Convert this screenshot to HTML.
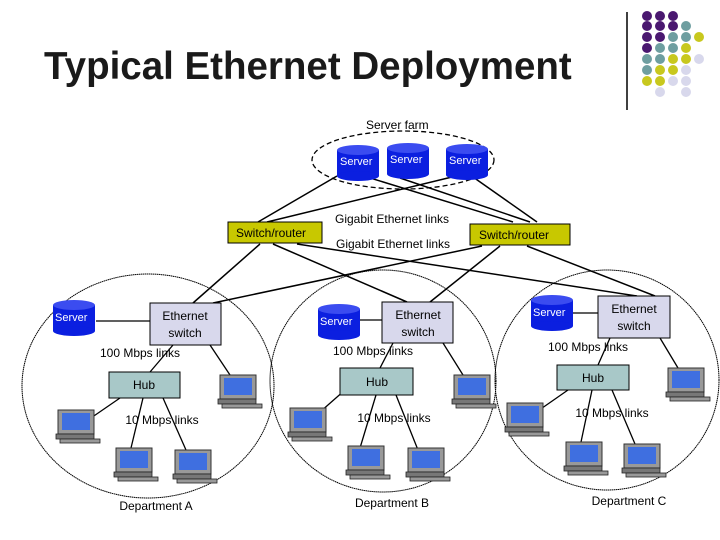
<!DOCTYPE html>
<html><head><meta charset="utf-8"><style>
html,body{margin:0;padding:0;background:#fff}
svg{display:block}
text{font-family:"Liberation Sans",sans-serif}
</style></head><body>
<svg width="720" height="540" viewBox="0 0 720 540" xmlns="http://www.w3.org/2000/svg">
<defs>
<g id="srv">
<rect x="0" y="5" width="42" height="26" fill="#0b1fe0"/>
<ellipse cx="21" cy="31" rx="21" ry="5" fill="#0b1fe0"/>
<ellipse cx="21" cy="5" rx="21" ry="5" fill="#3b4cf0"/>
</g>
<g id="pc">
<rect x="2" y="0" width="36" height="24" fill="#999" stroke="#333" stroke-width="1"/>
<rect x="6" y="3" width="28" height="17" fill="#3f6fe0"/>
<rect x="0" y="24" width="38" height="5" fill="#777" stroke="#222" stroke-width="0.8"/>
<rect x="4" y="29" width="40" height="4" fill="#999" stroke="#222" stroke-width="0.8"/>
</g>
</defs>
<text x="44" y="79" font-size="38.5" font-weight="bold" fill="#1a1a1a">Typical Ethernet Deployment</text>
<line x1="627" y1="12" x2="627" y2="110" stroke="#000" stroke-width="1.5"/>
<g>
<circle cx="647" cy="16" r="5" fill="#4a1870"/><circle cx="660" cy="16" r="5" fill="#4a1870"/><circle cx="673" cy="16" r="5" fill="#4a1870"/>
<circle cx="647" cy="26" r="5" fill="#4a1870"/><circle cx="660" cy="26" r="5" fill="#4a1870"/><circle cx="673" cy="26" r="5" fill="#4a1870"/><circle cx="686" cy="26" r="5" fill="#6e9ea0"/>
<circle cx="647" cy="37" r="5" fill="#4a1870"/><circle cx="660" cy="37" r="5" fill="#4a1870"/><circle cx="673" cy="37" r="5" fill="#6e9ea0"/><circle cx="686" cy="37" r="5" fill="#6e9ea0"/><circle cx="699" cy="37" r="5" fill="#c8c81e"/>
<circle cx="647" cy="48" r="5" fill="#4a1870"/><circle cx="660" cy="48" r="5" fill="#6e9ea0"/><circle cx="673" cy="48" r="5" fill="#6e9ea0"/><circle cx="686" cy="48" r="5" fill="#c8c81e"/>
<circle cx="647" cy="59" r="5" fill="#6e9ea0"/><circle cx="660" cy="59" r="5" fill="#6e9ea0"/><circle cx="673" cy="59" r="5" fill="#c8c81e"/><circle cx="686" cy="59" r="5" fill="#c8c81e"/><circle cx="699" cy="59" r="5" fill="#d8d8ec"/>
<circle cx="647" cy="70" r="5" fill="#6e9ea0"/><circle cx="660" cy="70" r="5" fill="#c8c81e"/><circle cx="673" cy="70" r="5" fill="#c8c81e"/><circle cx="686" cy="70" r="5" fill="#d8d8ec"/>
<circle cx="647" cy="81" r="5" fill="#c8c81e"/><circle cx="660" cy="81" r="5" fill="#c8c81e"/><circle cx="673" cy="81" r="5" fill="#d8d8ec"/><circle cx="686" cy="81" r="5" fill="#d8d8ec"/>
<circle cx="660" cy="92" r="5" fill="#d8d8ec"/><circle cx="686" cy="92" r="5" fill="#d8d8ec"/>
</g>
<g stroke="#000" stroke-width="1.5" fill="none">
<line x1="337" y1="176" x2="258" y2="222"/>
<line x1="452" y1="177" x2="267" y2="222"/>
<line x1="367" y1="177" x2="513" y2="222"/>
<line x1="400" y1="178" x2="530" y2="222"/>
<line x1="473" y1="177" x2="537" y2="222"/>
<line x1="260" y1="244" x2="193" y2="303"/>
<line x1="273" y1="244" x2="407" y2="302"/>
<line x1="297" y1="244" x2="637" y2="296"/>
<line x1="482" y1="246" x2="213" y2="303"/>
<line x1="500" y1="246" x2="430" y2="302"/>
<line x1="527" y1="246" x2="655" y2="296"/>
</g>
<g stroke="#000" stroke-width="1" fill="none" stroke-dasharray="1.5 0.5">
<ellipse cx="148" cy="386" rx="126" ry="112"/>
<ellipse cx="383" cy="381" rx="113" ry="111"/>
<ellipse cx="607" cy="380" rx="112" ry="110"/>
</g>
<ellipse cx="403" cy="160" rx="91" ry="29" fill="none" stroke="#000" stroke-width="1.3" stroke-dasharray="5 3"/>
<text x="366" y="129" font-size="12">Server farm</text>
<use href="#srv" x="337" y="145"/><use href="#srv" x="387" y="143"/><use href="#srv" x="446" y="144"/>
<g font-size="11" fill="#fff"><text x="340" y="165">Server</text><text x="390" y="163">Server</text><text x="449" y="164">Server</text></g>
<rect x="228" y="222" width="94" height="21" fill="#c8c800" stroke="#000"/>
<text x="236" y="237" font-size="12">Switch/router</text>
<rect x="470" y="224" width="100" height="21" fill="#c8c800" stroke="#000"/>
<text x="479" y="239" font-size="12">Switch/router</text>
<text x="335" y="223" font-size="12">Gigabit Ethernet links</text>
<text x="336" y="248" font-size="12">Gigabit Ethernet links</text>
<g stroke="#000" stroke-width="1.3">
<line x1="96" y1="321" x2="150" y2="321"/><line x1="173" y1="345" x2="150" y2="372"/><line x1="210" y1="345" x2="230" y2="375"/>
<line x1="120" y1="398" x2="88" y2="420"/><line x1="143" y1="398" x2="131" y2="448"/><line x1="163" y1="398" x2="186" y2="450"/>
<line x1="360" y1="320" x2="382" y2="320"/><line x1="393" y1="343" x2="380" y2="368"/><line x1="443" y1="343" x2="463" y2="375"/>
<line x1="376" y1="395" x2="360" y2="448"/><line x1="396" y1="395" x2="418" y2="450"/><line x1="345" y1="390" x2="320" y2="412"/>
<line x1="573" y1="313" x2="598" y2="313"/><line x1="610" y1="338" x2="598" y2="365"/><line x1="660" y1="338" x2="678" y2="368"/>
<line x1="568" y1="390" x2="535" y2="413"/><line x1="592" y1="390" x2="581" y2="442"/><line x1="612" y1="390" x2="635" y2="444"/>
</g>
<g fill="#d8d8ec" stroke="#000">
<rect x="150" y="303" width="71" height="42"/><rect x="382" y="302" width="71" height="41"/><rect x="598" y="296" width="72" height="42"/>
</g>
<g fill="#a8c8c8" stroke="#000">
<rect x="109" y="372" width="71" height="26"/><rect x="340" y="368" width="73" height="27"/><rect x="557" y="365" width="72" height="25"/>
</g>
<use href="#srv" x="53" y="300"/><use href="#srv" x="318" y="304"/><use href="#srv" x="531" y="295"/>
<g font-size="11" fill="#fff"><text x="55" y="321">Server</text><text x="320" y="325">Server</text><text x="533" y="316">Server</text></g>
<g font-size="12" fill="#000" text-anchor="middle">
<text x="185" y="320">Ethernet</text><text x="185" y="337">switch</text>
<text x="418" y="319">Ethernet</text><text x="418" y="336">switch</text>
<text x="634" y="313">Ethernet</text><text x="634" y="330">switch</text>
<text x="144" y="389">Hub</text><text x="377" y="386">Hub</text><text x="593" y="382">Hub</text>
<text x="140" y="357">100 Mbps links</text><text x="373" y="355">100 Mbps links</text><text x="588" y="351">100 Mbps links</text>
<text x="162" y="424">10 Mbps links</text><text x="394" y="422">10 Mbps links</text><text x="612" y="417">10 Mbps links</text>
<text x="156" y="510">Department A</text><text x="392" y="507">Department B</text><text x="629" y="505">Department C</text>
</g>
<use href="#pc" x="56" y="410"/><use href="#pc" x="114" y="448"/><use href="#pc" x="173" y="450"/><use href="#pc" x="218" y="375"/>
<use href="#pc" x="288" y="408"/><use href="#pc" x="346" y="446"/><use href="#pc" x="406" y="448"/><use href="#pc" x="452" y="375"/>
<use href="#pc" x="505" y="403"/><use href="#pc" x="564" y="442"/><use href="#pc" x="622" y="444"/><use href="#pc" x="666" y="368"/>
</svg>
</body></html>
